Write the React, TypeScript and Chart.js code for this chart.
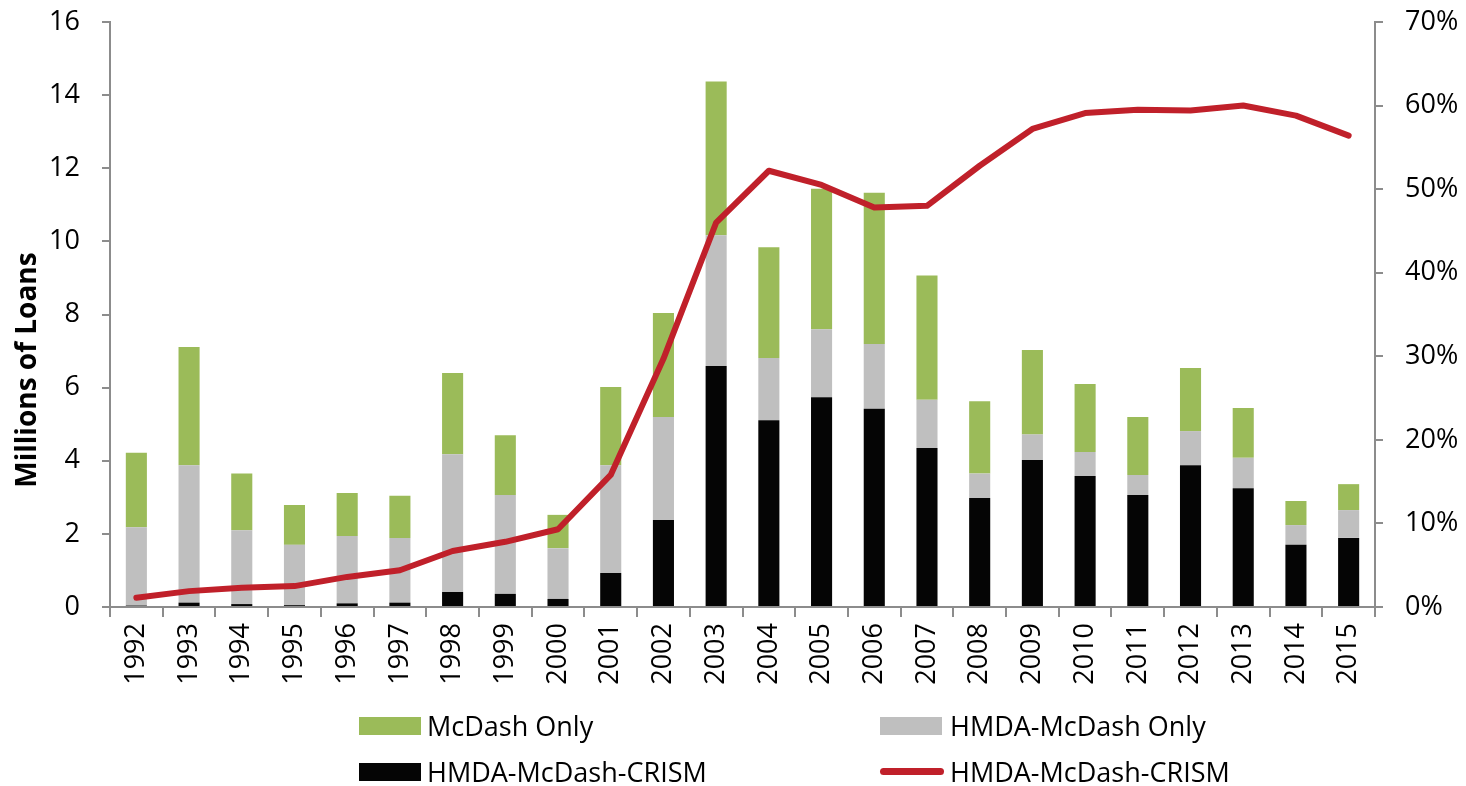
import React, { useEffect, useRef } from "react";
import { Chart, registerables } from "chart.js";

Chart.register(...registerables);

const years = [
  "1992", "1993", "1994", "1995", "1996", "1997", "1998", "1999", "2000", "2001", "2002", "2003",
  "2004", "2005", "2006", "2007", "2008", "2009", "2010", "2011", "2012", "2013", "2014", "2015",
];

// Millions of loans (stacked segments)
const hmdaMcdashCrism = [
  0.04, 0.12, 0.08, 0.05, 0.10, 0.12, 0.41, 0.36, 0.22, 0.93, 2.38, 6.59,
  5.11, 5.74, 5.42, 4.35, 2.98, 4.02, 3.58, 3.06, 3.88, 3.25, 1.70, 1.89,
];
const hmdaMcdashOnly = [
  2.14, 3.76, 2.02, 1.65, 1.84, 1.77, 3.77, 2.70, 1.39, 2.95, 2.82, 3.58,
  1.70, 1.86, 1.77, 1.32, 0.67, 0.70, 0.66, 0.55, 0.93, 0.83, 0.54, 0.76,
];
const mcdashOnly = [
  2.04, 3.23, 1.55, 1.09, 1.18, 1.15, 2.22, 1.64, 0.91, 2.14, 2.84, 4.20,
  3.03, 3.84, 4.14, 3.40, 1.98, 2.31, 1.86, 1.59, 1.73, 1.36, 0.66, 0.71,
];
// Share of loans in HMDA-McDash-CRISM (%)
const crismShare = [
  1.1, 1.9, 2.3, 2.5, 3.6, 4.4, 6.7, 7.8, 9.3, 15.8, 29.7, 46.0,
  52.2, 50.5, 47.8, 48.0, 52.8, 57.2, 59.1, 59.5, 59.4, 60.0, 58.8, 56.4,
];

const leftTitle = "Millions of Loans";
const legendItems = ["McDash Only", "HMDA-McDash Only", "HMDA-McDash-CRISM", "HMDA-McDash-CRISM"];

const AXIS = "#8C8C8C";
const GREEN = "#9BBB59";
const GRAY = "#BFBFBF";
const BLACK = "#050505";
const RED = "#C0202A";
const FONT = "'Open Sans', 'DejaVu Sans', sans-serif";

export default function App() {
  const ref = useRef<HTMLCanvasElement>(null);

  useEffect(() => {
    if (!ref.current) return;
    const tickFont = { family: FONT, size: 27 };
    const chart = new Chart(ref.current, {
      type: "bar",
      data: {
        labels: years,
        datasets: [
          {
            type: "line",
            label: "HMDA-McDash-CRISM share",
            data: crismShare,
            yAxisID: "y1",
            borderColor: RED,
            backgroundColor: RED,
            borderWidth: 6,
            pointRadius: 0,
            tension: 0,
            borderJoinStyle: "round",
            borderCapStyle: "round",
            order: 0,
          } as any,
          {
            label: "HMDA-McDash-CRISM",
            data: hmdaMcdashCrism,
            backgroundColor: BLACK,
            stack: "s",
            yAxisID: "y",
            order: 1,
          },
          {
            label: "HMDA-McDash Only",
            data: hmdaMcdashOnly,
            backgroundColor: GRAY,
            stack: "s",
            yAxisID: "y",
            order: 1,
          },
          {
            label: "McDash Only",
            data: mcdashOnly,
            backgroundColor: GREEN,
            stack: "s",
            yAxisID: "y",
            order: 1,
          },
        ],
      },
      options: {
        animation: false,
        responsive: false,
        maintainAspectRatio: false,
        datasets: { bar: { barPercentage: 0.4, categoryPercentage: 1.0 } },
        layout: { padding: { top: 22, left: 0, right: 0, bottom: 0 } },
        plugins: { legend: { display: false }, tooltip: { enabled: false } },
        scales: {
          x: {
            stacked: true,
            grid: { display: true, drawOnChartArea: false, drawTicks: true, tickLength: 10, color: AXIS, lineWidth: 2, offset: true },
            border: { display: true, color: AXIS, width: 2 },
            ticks: { font: tickFont, color: "#000", minRotation: 90, maxRotation: 90, padding: 6, autoSkip: false },
            afterFit: (s: any) => { s.height = 179; },
          },
          y: {
            position: "left",
            stacked: true,
            min: 0,
            max: 16,
            grid: { display: true, drawOnChartArea: false, drawTicks: true, tickLength: 8, color: AXIS, lineWidth: 2 },
            border: { display: true, color: AXIS, width: 2 },
            ticks: { stepSize: 2, font: tickFont, color: "#000", padding: 22 },
            afterFit: (s: any) => { s.width = 110; s.paddingTop = 0; s.paddingBottom = 0; },
          },
          y1: {
            position: "right",
            min: 0,
            max: 70,
            grid: { display: true, drawOnChartArea: false, drawTicks: true, tickLength: 8, color: AXIS, lineWidth: 2 },
            border: { display: true, color: AXIS, width: 2 },
            ticks: { stepSize: 10, font: tickFont, color: "#000", padding: 22, callback: (v: any) => `${v}%` },
            afterFit: (s: any) => { s.width = 91; s.paddingTop = 0; s.paddingBottom = 0; },
          },
        },
      },
    });
    return () => chart.destroy();
  }, []);

  const textStyle: React.CSSProperties = {
    position: "absolute",
    fontFamily: FONT,
    fontSize: 27,
    color: "#000",
    lineHeight: "30px",
    whiteSpace: "nowrap",
  };
  const box = (left: number, top: number, color: string): React.CSSProperties => ({
    position: "absolute", left, top, width: 62, height: 18, background: color,
  });

  return (
    <div style={{ position: "absolute", left: 0, top: 0, width: 1466, height: 786, background: "#fff", overflow: "hidden" }}>
      <canvas ref={ref} width={1466} height={786} style={{ position: "absolute", left: 0, top: 0, width: 1466, height: 786 }} />
      <div
        style={{
          position: "absolute",
          left: 25 - 150,
          top: 370 - 17,
          width: 300,
          height: 34,
          lineHeight: "34px",
          textAlign: "center",
          fontFamily: FONT,
          fontWeight: 700,
          fontSize: 28,
          color: "#000",
          transform: "rotate(-90deg)",
          whiteSpace: "nowrap",
        }}
      >
        {leftTitle}
      </div>
      <div style={box(359, 717, GREEN)} />
      <div style={{ ...textStyle, left: 427, top: 711 }}>{legendItems[0]}</div>
      <div style={box(880, 717, GRAY)} />
      <div style={{ ...textStyle, left: 950, top: 711 }}>{legendItems[1]}</div>
      <div style={box(359, 763, BLACK)} />
      <div style={{ ...textStyle, left: 427, top: 757 }}>{legendItems[2]}</div>
      <div style={{ position: "absolute", left: 880, top: 768, width: 64, height: 7, borderRadius: 3.5, background: RED }} />
      <div style={{ ...textStyle, left: 950, top: 757 }}>{legendItems[3]}</div>
    </div>
  );
}
